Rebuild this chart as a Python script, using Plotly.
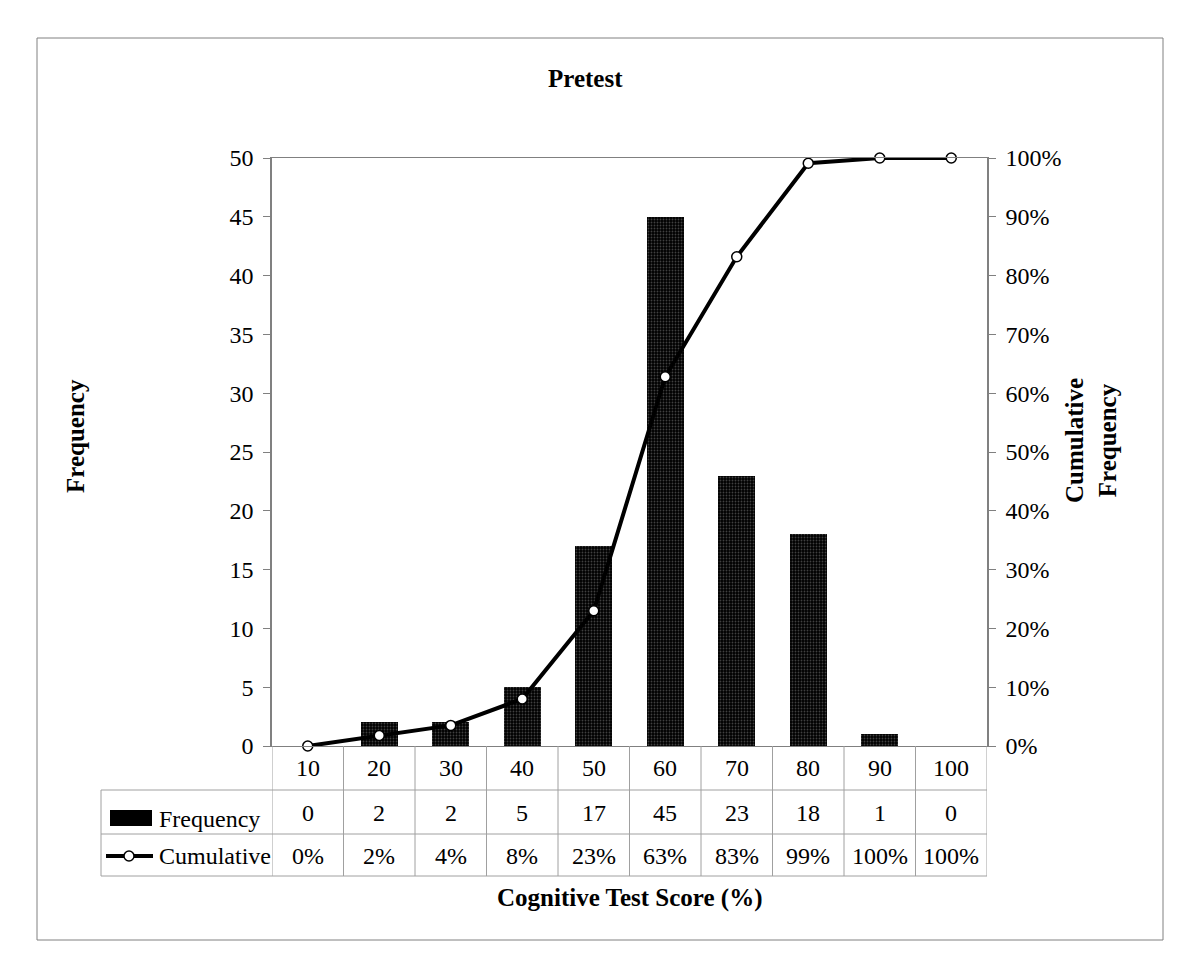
import plotly.graph_objects as go

scores = [10, 20, 30, 40, 50, 60, 70, 80, 90, 100]
frequency = [0, 2, 2, 5, 17, 45, 23, 18, 1, 0]
cumulative = [0, 1.8, 3.5, 8.0, 23.0, 62.8, 83.2, 99.1, 100, 100]
cum_labels = ['0%', '2%', '4%', '8%', '23%', '63%', '83%', '99%', '100%', '100%']

FONT = 'Liberation Serif'
GRID = '#a0a0a0'
AX = '#808080'

# pixel helpers for the plot box (272..987 x, 158..746 y on screen)
def px(xp):
    return (xp - 272) / 715

def py(yp):
    return (746 - yp) / 588

def label(text, x, y, size=24, angle=0, xanchor='center'):
    return dict(text=text, xref='paper', yref='paper', x=x, y=y,
                xanchor=xanchor, yanchor='middle', showarrow=False, textangle=angle,
                font=dict(family=FONT, size=size, color='black'))

fig = go.Figure()

fig.add_trace(go.Bar(
    x=scores, y=frequency, width=5.2,
    marker=dict(color='black', line=dict(color='black', width=0),
                pattern=dict(shape='.', fgcolor='#808080', bgcolor='black',
                             size=3, solidity=0.3)),
    name='Frequency'
))

fig.add_trace(go.Scatter(
    x=scores, y=cumulative, yaxis='y2', mode='lines+markers',
    line=dict(color='black', width=4),
    marker=dict(symbol='circle', size=10, color='white',
                line=dict(color='black', width=1.5)),
    name='Cumulative', cliponaxis=False
))

shapes = []
annotations = []

# table lines
for yl in [790, 834, 876]:
    shapes.append(dict(type='line', xref='paper', yref='paper',
                       x0=px(101), x1=1, y0=py(yl), y1=py(yl),
                       line=dict(color=GRID, width=1)))
for i in range(len(scores) + 1):
    xb = scores[0] - 5 + 10 * i
    shapes.append(dict(type='line', xref='x', yref='paper',
                       x0=xb, x1=xb, y0=0, y1=py(876),
                       line=dict(color=GRID, width=1)))
shapes.append(dict(type='line', xref='paper', yref='paper',
                   x0=px(101), x1=px(101), y0=py(790), y1=py(876),
                   line=dict(color=GRID, width=1)))

# legend keys in the table
shapes.append(dict(type='rect', xref='paper', yref='paper',
                   x0=px(110), x1=px(152), y0=py(826), y1=py(810),
                   fillcolor='black', line=dict(color='black', width=0)))
shapes.append(dict(type='line', xref='paper', yref='paper',
                   x0=px(106), x1=px(153), y0=py(856), y1=py(856),
                   line=dict(color='black', width=4)))
shapes.append(dict(type='circle', xref='paper', yref='paper',
                   x0=px(124), x1=px(134), y0=py(861), y1=py(851),
                   fillcolor='white', line=dict(color='black', width=1.5)))
annotations.append(label('Frequency', px(157), py(819), xanchor='left'))
annotations.append(label('Cumulative', px(157), py(856), xanchor='left'))

for s, f, c in zip(scores, frequency, cum_labels):
    for txt, yy in ((str(s), 768), (str(f), 813), (c, 856)):
        annotations.append(dict(text=txt, xref='x', yref='paper', x=s, y=py(yy),
                                xanchor='center', yanchor='middle', showarrow=False,
                                font=dict(family=FONT, size=24, color='black')))

# titles
annotations.append(label('<b>Pretest</b>', px(585), py(79), size=25))
annotations.append(label('<b>Frequency</b>', px(75), py(436), size=25, angle=-90))
annotations.append(label('<b>Cumulative<br>Frequency</b>', px(1091), py(441), size=25, angle=-90))
annotations.append(label('<b>Cognitive Test Score (%)</b>', px(630), py(898), size=25))

# outer frame
shapes.append(dict(type='rect', xref='paper', yref='paper',
                   x0=px(37), x1=px(1163), y0=py(940), y1=py(38),
                   line=dict(color=AX, width=1), fillcolor='rgba(0,0,0,0)'))

# page adds an 8px body margin, so the figure is shifted by that much
fig.update_layout(
    width=1192, height=949,
    margin=dict(l=264, r=213, t=150, b=211),
    plot_bgcolor='white', paper_bgcolor='white',
    showlegend=False, bargap=0,
    font=dict(family=FONT, size=24, color='black'),
    xaxis=dict(range=[5, 105], showticklabels=False, ticks='', showgrid=False,
               zeroline=False, showline=True, mirror=True, linecolor=AX, linewidth=1),
    yaxis=dict(range=[0, 50], dtick=5, ticks='outside', ticklen=7, tickcolor=AX,
               showgrid=False, zeroline=False, showline=True, linecolor=AX,
               linewidth=1.5, ticklabelstandoff=5),
    yaxis2=dict(range=[0, 100], dtick=10, ticksuffix='%', overlaying='y', side='right',
                ticks='outside', ticklen=7, tickcolor=AX, showgrid=False,
                zeroline=False, showline=True, linecolor=AX, linewidth=1.5,
                ticklabelstandoff=5),
    shapes=shapes, annotations=annotations,
)

fig.write_html('out.html')
